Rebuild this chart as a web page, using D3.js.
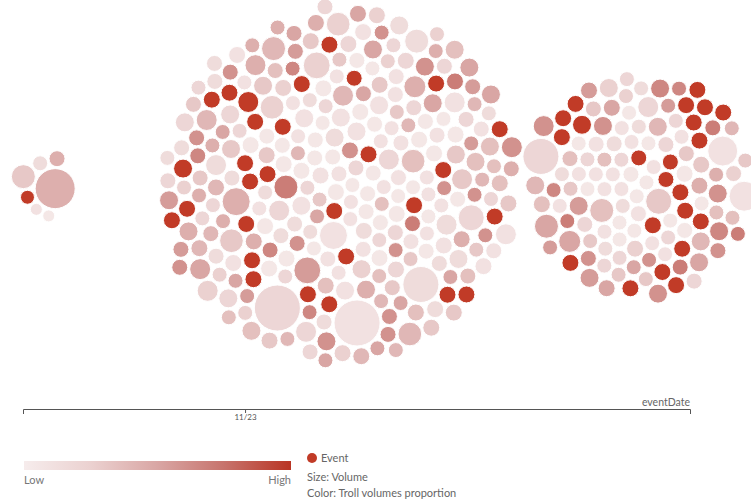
<!DOCTYPE html>
<html>
<head>
<meta charset="utf-8">
<script src="https://cdn.jsdelivr.net/npm/d3@7"></script>
<style>
  html, body { margin: 0; padding: 0; background: #fff; }
  svg { display: block; font-family: Lato, "Open Sans", sans-serif; }
</style>
</head>
<body>
<svg id="chart" width="751" height="502"></svg>
<script>
// ---------- DATA ----------
const clusterDates = ["2023-11-22T16:00", "2023-11-23T03:50", "2023-11-23T15:45"];
const tickDates = ["2023-11-23T00:00"];
const axisDomain = ["2023-11-22T15:07", "2023-11-23T17:48"];

// Cluster 1
const volume1 = [400, 49, 56, 36, 144, 64, 36];
const proportion1 = [0.45, 0.9, 0.15, 0.05, 0.3, 0.45, 0.1];
const event1 = [1];

// Cluster 2
const volume2 = [
  72,56,64,56,72,64,56,90,64,56,
  64,72,56,64,72,56,72,144,56,64,
  56,64,90,56,64,72,56,64,140,56,
  72,56,64,72,72,90,64,56,72,64,
  196,56,72,56,64,56,110,64,72,56,
  56,90,64,56,72,64,56,64,56,90,
  72,64,56,110,196,56,72,56,64,72,
  56,64,72,56,90,64,56,110,64,72,
  90,72,56,64,72,56,72,64,110,56,
  64,110,56,72,64,180,72,64,72,90,
  56,72,90,72,56,64,72,56,90,72,
  140,56,64,72,72,56,64,180,56,72,
  64,90,56,110,64,72,56,64,90,56,
  72,56,140,64,56,90,72,72,56,110,
  56,121,72,72,56,64,72,324,56,64,
  72,56,169,64,72,56,72,90,72,140,
  64,72,72,72,90,56,110,64,72,56,
  56,530,72,72,56,90,530,64,56,72,
  72,56,64,110,56,64,72,72,56,64,
  110,64,56,72,90,56,64,90,56,72,
  56,90,72,64,56,110,64,56,90,144,
  64,56,90,56,72,72,56,72,64,110,
  72,64,56,140,64,56,90,64,72,72,
  56,72,64,56,90,72,72,90,64,56,
  144,56,72,90,56,64,72,56,72,64,
  64,90,56,72,64,110,56,72,64,90,
  72,56,64,90,56,72,64,110,56,64,
  72,56,90,64,56,110,64,72,56,90
];
const proportion2 = [
  .05,.1,.05,.15,.1,.05,.2,.1,.05,.1,
  .1,.05,.15,.9,.9,.1,.05,.7,.3,.05,
  .05,.15,.1,.05,.1,.05,.2,.05,.25,.1,
  .1,.05,.3,.9,.9,.15,.05,.1,.05,.2,
  .1,.1,.05,.2,.1,.05,.15,.1,.05,.4,
  .15,.1,.05,.1,.05,.2,.1,.05,.35,.1,
  .05,.2,.1,.2,.45,.1,.05,.3,.1,.05,
  .1,.05,.15,.1,.25,.05,.1,.2,.05,.9,
  .3,.9,.5,.05,.9,.2,.6,.1,.9,.05,
  .15,.4,.05,.3,.1,.55,.9,.05,.45,.1,
  .6,.9,.3,.05,.2,.7,.9,.4,.1,.9,
  .35,.05,.5,.2,.9,.3,.6,.25,.05,.9,
  .1,.45,.2,.3,.65,.05,.35,.15,.5,.1,
  .25,.6,.3,.1,.4,.2,.05,.9,.3,.15,
  .45,.45,.35,.9,.6,.15,.3,.15,.5,.2,
  .9,.65,.2,.4,.2,.5,.9,.35,.9,.25,
  .15,.4,.9,.9,.3,.2,.5,.05,.35,.45,
  .55,.2,.9,.45,.2,.6,.1,.15,.4,.1,
  .2,.5,.3,.1,.65,.35,.9,.4,.25,.6,
  .4,.1,.55,.3,.15,.45,.2,.6,.1,.35,
  .25,.5,.15,.65,.4,.2,.55,.3,.45,.15,
  .6,.2,.35,.5,.1,.9,.25,.7,.15,.45,
  .3,.55,.2,.4,.6,.15,.35,.5,.1,.9,
  .45,.25,.6,.35,.2,.5,.9,.9,.55,.4,
  .4,.6,.9,.15,.5,.3,.9,.25,.45,.35,
  .2,.35,.5,.1,.45,.25,.6,.3,.15,.5,
  .3,.45,.1,.55,.25,.4,.15,.6,.35,.2,
  .3,.15,.5,.2,.45,.1,.6,.25,.4,.2
];
const event2 = [13,14,33,34,79,81,84,88,96,101,106,109,114,119,137,143,150,156,158,162,163,172,186,215,229,236,237,242,246];

// Cluster 3
const volume3 = [
  56,56,64,56,56,56,64,56,169,56,
  56,72,56,64,56,64,56,56,64,56,
  64,72,144,56,56,56,64,56,56,72,
  56,64,56,56,72,56,56,64,56,56,
  72,56,56,64,90,56,56,72,56,56,
  72,90,56,56,64,72,56,110,72,56,
  72,56,90,56,56,72,72,90,56,64,
  56,90,56,72,56,64,90,121,56,64,
  64,225,56,72,90,56,72,56,72,64,
  72,56,90,324,64,56,72,56,144,56,
  72,72,56,90,56,64,90,72,72,72,
  225,56,90,64,110,56,72,90,56,72,
  72,90
];
const proportion3 = [
  .05,.1,.05,.15,.1,.05,.1,.2,.3,.1,
  .1,.9,.2,.9,.05,.9,.05,.1,.9,.05,
  .15,.9,.35,.05,.2,.1,.3,.05,.1,.9,
  .05,.2,.1,.35,.05,.1,.15,.05,.3,.1,
  .25,.1,.05,.2,.4,.1,.05,.3,.15,.05,
  .9,.55,.2,.6,.1,.45,.3,.2,.9,.15,
  .9,.2,.6,.35,.7,.9,.9,.9,.45,.6,
  .25,.4,.65,.9,.5,.3,.6,.5,.55,.7,
  .35,.1,.2,.5,.65,.1,.9,.3,.9,.25,
  .9,.15,.5,.2,.7,.3,.55,.35,.5,.65,
  .9,.9,.3,.55,.2,.6,.4,.9,.9,.9,
  .1,.55,.65,.2,.6,.4,.5,.25,.7,.35,
  .9,.6
];
const event3 = [11,13,15,18,21,29,50,58,60,65,66,67,73,86,88,90,100,101,107,108,109,120];

const colorStops = ["#f6ecec", "#ebd1d0", "#d9a6a4", "#c7736c", "#b93524"];
const eventColor = "#c13b27";

// ---------- CHART ----------
const svg = d3.select("#chart");
const parse = d3.timeParse("%Y-%m-%dT%H:%M");

const x = d3.scaleTime()
  .domain(axisDomain.map(parse))
  .range([23, 690]);
const centerY = 185;

const rScale = d3.scaleSqrt().domain([0, 400]).range([0, 20]);
const color = d3.scaleLinear()
  .domain([0, 0.25, 0.5, 0.75, 1])
  .range(colorStops);

const clusters = [
  {date: clusterDates[0], vol: volume1, prop: proportion1, ev: event1},
  {date: clusterDates[1], vol: volume2, prop: proportion2, ev: event2},
  {date: clusterDates[2], vol: volume3, prop: proportion3, ev: event3}
];

const nodes = [];
clusters.forEach((c, ci) => {
  const cx = x(parse(c.date));
  c.vol.forEach((v, i) => {
    const a = i * Math.PI * (3 - Math.sqrt(5));
    const rr = 10.5 * Math.sqrt(i + 0.5);
    nodes.push({
      cluster: ci, tx: cx, vol: v, prop: c.prop[i],
      event: c.ev.includes(i),
      x: cx + rr * Math.cos(a), y: centerY + rr * Math.sin(a)
    });
  });
});

const sim = d3.forceSimulation(nodes)
  .force("x", d3.forceX(d => d.tx).strength(0.06))
  .force("y", d3.forceY(centerY).strength(0.06))
  .force("collide", d3.forceCollide(d => rScale(d.vol) + 1).iterations(4))
  .stop();
for (let i = 0; i < 500; i++) sim.tick();

svg.append("g")
  .selectAll("circle")
  .data(nodes)
  .join("circle")
  .attr("cx", d => d.x)
  .attr("cy", d => d.y)
  .attr("r", d => rScale(d.vol))
  .attr("fill", d => d.event ? eventColor : color(d.prop))
  .attr("stroke", "#fff")
  .attr("stroke-width", 1);

// Axis
const axisG = svg.append("g")
  .attr("transform", "translate(0,409)")
  .call(d3.axisBottom(x)
    .tickValues(tickDates.map(parse))
    .tickFormat(d3.timeFormat("%m/%d"))
    .tickSize(4)
    .tickSizeOuter(5));
axisG.select(".domain").attr("stroke", "#555");
axisG.selectAll(".tick line").attr("stroke", "#555");
axisG.selectAll(".tick text")
  .attr("fill", "#555")
  .attr("font-size", 8)
  .attr("font-family", "Lato, sans-serif")
  .attr("dy", "0.5em");

svg.append("text")
  .attr("x", 690).attr("y", 406)
  .attr("text-anchor", "end")
  .attr("fill", "#666")
  .attr("font-size", 10.5)
  .text("eventDate");

// Legend: gradient
const defs = svg.append("defs");
const grad = defs.append("linearGradient").attr("id", "lg");
colorStops.forEach((c, i) => {
  grad.append("stop").attr("offset", (i / (colorStops.length - 1)) * 100 + "%").attr("stop-color", c);
});
svg.append("rect")
  .attr("x", 24).attr("y", 461).attr("width", 267).attr("height", 9)
  .attr("fill", "url(#lg)");
svg.append("text").attr("x", 24).attr("y", 484)
  .attr("fill", "#777").attr("font-size", 11).text("Low");
svg.append("text").attr("x", 291).attr("y", 484).attr("text-anchor", "end")
  .attr("fill", "#777").attr("font-size", 11).text("High");

svg.append("circle").attr("cx", 312).attr("cy", 458).attr("r", 5).attr("fill", eventColor);
svg.append("text").attr("x", 321).attr("y", 462)
  .attr("fill", "#666").attr("font-size", 11).text("Event");
svg.append("text").attr("x", 307).attr("y", 481)
  .attr("fill", "#666").attr("font-size", 11).text("Size: Volume");
svg.append("text").attr("x", 307).attr("y", 497)
  .attr("fill", "#666").attr("font-size", 11).text("Color: Troll volumes proportion");
</script>
</body>
</html>
